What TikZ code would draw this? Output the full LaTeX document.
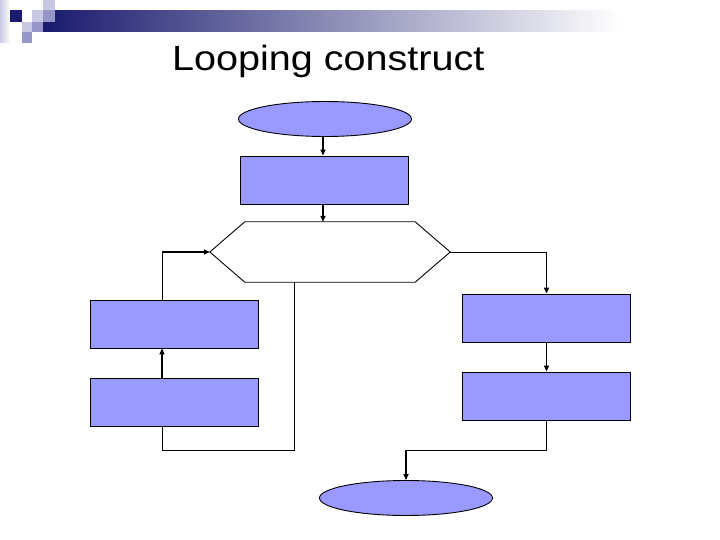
\documentclass[tikz,border=0pt]{standalone}
\usepackage{fontspec}
\setmainfont{Liberation Sans}
\usetikzlibrary{shapes.geometric,calc,arrows.meta}
\definecolor{boxfill}{RGB}{153,153,255}
\definecolor{navy}{RGB}{26,26,110}
\definecolor{lightlav}{RGB}{200,200,228}
\definecolor{midlav}{RGB}{150,150,200}
\tikzset{
  boxnode/.style={draw=black, fill=boxfill, line width=0.9pt, minimum width=168pt, minimum height=48pt, inner sep=0pt},
  ovalnode/.style={ellipse, draw=black, fill=boxfill, line width=0.9pt, minimum width=173pt, minimum height=35pt, inner sep=0pt},
  conn/.style={draw=black, line width=0.9pt},
  arr/.style={draw=black, line width=1.7pt, -{Triangle[length=6pt,width=5pt]}},
}
\begin{document}
\begin{tikzpicture}[x=1pt,y=-1pt]
\useasboundingbox (0,0) rectangle (720,540);
\fill[white] (0,0) rectangle (720,540);
% decoration
\shade[left color=navy, right color=white] (43,11) rectangle (620,32);
\shade[left color=lightlav, right color=white] (0,0) rectangle (10,43);
\fill[navy] (10,10) rectangle (22,22);
\fill[lightlav] (43,0) rectangle (55,10);
\fill[lightlav] (32,10) rectangle (43,22);
\fill[midlav] (43,10) rectangle (55,22);
\fill[lightlav] (22,22) rectangle (32,32);
\fill[midlav] (32,22) rectangle (43,32);
\fill[midlav] (22,32) rectangle (32,43);
% title
\node[anchor=base west, inner sep=0pt] (title) at (172,71) {\scalebox{1.13}[1]{\fontsize{35}{40}\selectfont Looping construct}};
% nodes
\node[ovalnode] (start) at (325,119) {};
\node[boxnode] (r1) at (324.5,180) {};
\node[minimum width=240pt, minimum height=60pt, inner sep=0pt] (hex) at (330,252) {};
\draw[line width=0.9pt] ($(hex.north west)+(35,0)$) -- ($(hex.north east)+(-35,0)$) -- (hex.east) -- ($(hex.south east)+(-35,0)$) -- ($(hex.south west)+(35,0)$) -- (hex.west) -- cycle;
\node[boxnode] (l1) at (174.5,324) {};
\node[boxnode] (l2) at (174.5,402) {};
\node[boxnode] (r2) at (546.5,318) {};
\node[boxnode] (r3) at (546.5,396) {};
\node[ovalnode] (stop) at (406,498) {};
\coordinate (l1top) at ($(l1.north)+(-12.5,0)$);
\coordinate (l1bot) at ($(l1.south)+(-12.5,0)$);
\coordinate (l2top) at ($(l2.north)+(-12.5,0)$);
\coordinate (l2bot) at ($(l2.south)+(-12.5,0)$);
\coordinate (hexbot) at ($(hex.south)+(-36,0)$);
\coordinate (r1bot) at ($(r1.south)+(-1.5,0)$);
\coordinate (lcorner) at (l1top |- hex.west);
\coordinate (rcorner) at (hex.east -| r2.north);
\coordinate (bcorner) at ($(r3.south)+(0,30)$);
\coordinate (bturn) at (bcorner -| stop.north);
% connectors
\draw[arr] (start.south -| r1bot) -- (r1.north -| r1bot);
\draw[arr] (r1bot) -- (hex.north -| r1bot);
\draw[conn] (l1top) -- (lcorner);
\draw[arr] (lcorner) -- (hex.west);
\draw[arr] (l2top) -- (l1bot);
\draw[conn] (l2bot) -- ++(0,24) -| (hexbot);
\draw[conn] (hex.east) -- (rcorner);
\draw[arr] (rcorner) -- (r2.north);
\draw[arr] (r2.south) -- (r3.north);
\draw[conn] (r3.south) -- (bcorner) -- (bturn);
\draw[arr] (bturn) -- (stop.north);
\end{tikzpicture}
\end{document}
